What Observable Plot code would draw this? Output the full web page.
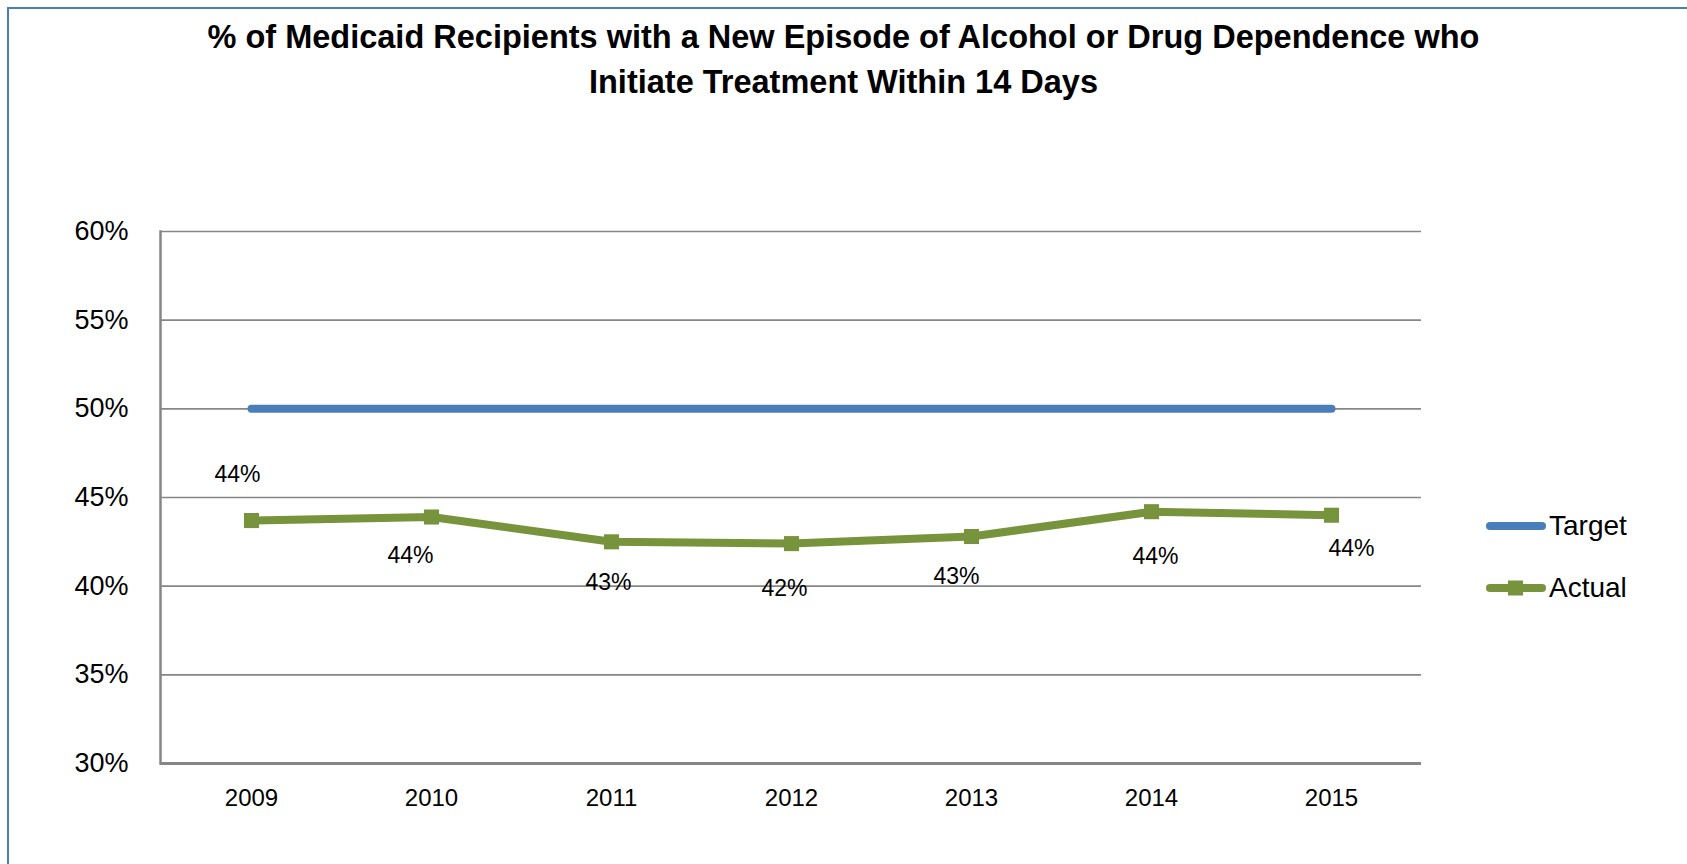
<!DOCTYPE html>
<html>
<head>
<meta charset="utf-8">
<script src="https://cdn.jsdelivr.net/npm/d3@7"></script>
<script src="https://cdn.jsdelivr.net/npm/@observablehq/plot@0.6"></script>
<style>
  html, body { margin: 0; padding: 0; background: #fff; overflow: hidden; }
  #wrap { position: relative; width: 1687px; height: 864px; font-family: "Liberation Sans", Arial, sans-serif; }
  #frame { position: absolute; left: 7px; top: 7px; right: -10px; bottom: -10px;
           border-left: 2px solid #4a7ebb; border-top: 2px solid #4a7ebb; }
  #title { position: absolute; left: 0; top: 15px; width: 1687px; text-align: center;
           font-weight: bold; font-size: 32.5px; line-height: 45px; color: #000; }
  #chart { position: absolute; left: 0; top: 0; }
  #legend { position: absolute; left: 1486px; top: 495px; }
  .item { display: flex; align-items: center; height: 62px; font-size: 28px; color: #000; }
  .item svg { margin-right: 3px; }
</style>
</head>
<body>
<div id="wrap">
  <div id="chart"></div>
  <div id="frame"></div>
  <div id="title"></div>
  <div id="legend"></div>
</div>
<script>
// ---- data ----
const years = ["2009", "2010", "2011", "2012", "2013", "2014", "2015"];
const targetValues = [50, 50, 50, 50, 50, 50, 50];
const actualValues = [43.7, 43.9, 42.5, 42.4, 42.8, 44.2, 44.0];
const actualLabels = ["44%", "44%", "43%", "42%", "43%", "44%", "44%"];
const yTicks = [30, 35, 40, 45, 50, 55, 60];
const seriesNames = ["Target", "Actual"];
const titleLines = [
  "% of Medicaid Recipients with a New Episode of Alcohol or Drug Dependence who",
  "Initiate Treatment Within 14 Days"
];

// ---- styling ----
const seriesColors = ["#4a7ebb", "#77933c"];
const labelDx = [-14, -21, -3, -7, -15, 4, 20];
const labelDy = [-46, 39, 41, 45, 40, 45, 33];

const targetRows = years.map((y, i) => ({year: y, value: targetValues[i]}));
const actualRows = years.map((y, i) => ({year: y, value: actualValues[i], label: actualLabels[i]}));

document.getElementById("title").innerHTML = titleLines.join("<br>");

const labelMarks = actualRows.map((r, i) =>
  Plot.text([r], {x: "year", y: "value", text: "label", dx: labelDx[i], dy: labelDy[i],
    fontSize: 23, fill: "#000"}));

const chart = Plot.plot({
  width: 1687,
  height: 864,
  marginLeft: 160,
  marginRight: 266,
  marginTop: 231,
  marginBottom: 101,
  style: {background: "transparent", fontFamily: "'Liberation Sans', Arial, sans-serif", color: "#000"},
  x: {type: "band", domain: years, padding: 0, label: null},
  y: {domain: [30, 60], label: null},
  marks: [
    Plot.gridY(yTicks, {stroke: "#868686", strokeOpacity: 1, strokeWidth: 1.6}),
    Plot.axisY(yTicks, {tickSize: 0, tickPadding: 32, fontSize: 27, tickFormat: d => d + "%", label: null}),
    Plot.axisX({tickSize: 0, tickPadding: 25, fontSize: 24, label: null}),
    Plot.frame({anchor: "left", stroke: "#868686", strokeWidth: 2.5}),
    Plot.ruleY([30], {stroke: "#868686", strokeWidth: 3}),
    Plot.lineY(targetRows, {x: "year", y: "value", stroke: seriesColors[0], strokeWidth: 8, strokeLinecap: "round"}),
    Plot.lineY(actualRows, {x: "year", y: "value", stroke: seriesColors[1], strokeWidth: 8, strokeLinejoin: "miter"}),
    Plot.dot(actualRows, {x: "year", y: "value", symbol: "square", r: 8.5, fill: seriesColors[1], stroke: "none"}),
    ...labelMarks
  ]
});
document.getElementById("chart").appendChild(chart);

// legend
const legend = document.getElementById("legend");
seriesNames.forEach((name, i) => {
  const item = document.createElement("div");
  item.className = "item";
  const marker = i === 1 ? `<rect x="22" y="2.5" width="15" height="15" fill="${seriesColors[i]}"/>` : "";
  item.innerHTML = `<svg width="60" height="20"><line x1="4" y1="10" x2="56" y2="10" stroke="${seriesColors[i]}" stroke-width="8" stroke-linecap="round"/>${marker}</svg><span>${name}</span>`;
  legend.appendChild(item);
});
</script>
</body>
</html>
